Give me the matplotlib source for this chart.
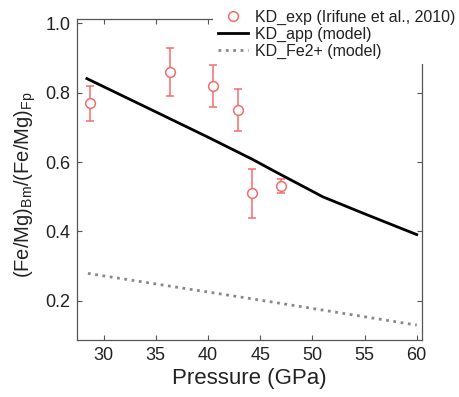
import matplotlib
matplotlib.use("Agg")
import matplotlib.pyplot as plt

plt.rcParams['font.family'] = ['Liberation Sans', 'DejaVu Sans']
plt.rcParams['mathtext.fontset'] = 'custom'
plt.rcParams['mathtext.rm'] = 'Liberation Sans'
plt.rcParams['mathtext.it'] = 'Liberation Sans:italic'

# Experimental data (Irifune et al., 2010)
exp_p = [28.7, 36.4, 40.5, 42.9, 44.2, 47.0]
exp_kd = [0.77, 0.86, 0.82, 0.75, 0.51, 0.53]
exp_err_lo = [0.05, 0.07, 0.06, 0.06, 0.07, 0.02]
exp_err_hi = [0.05, 0.07, 0.06, 0.06, 0.07, 0.02]

# Model KD_app
app_p = [28.4, 35, 40, 44.2, 46.6, 51, 55, 60]
app_kd = [0.841, 0.745, 0.672, 0.609, 0.570, 0.50, 0.451, 0.391]

# Model KD_Fe2+
fe2_p = [28.5, 45, 60]
fe2_kd = [0.279, 0.202, 0.13]

red = '#f26d6d'

fig = plt.figure(figsize=(4.59, 3.97), dpi=100)
ax = fig.add_axes([0.1688, 0.1436, 0.7505, 0.8078])

ax.errorbar(exp_p, exp_kd, yerr=[exp_err_lo, exp_err_hi], fmt='none',
            ecolor=red, elinewidth=1.1, capsize=3.2, capthick=1.1, zorder=2)
ax.plot(exp_p, exp_kd, 'o', mfc='white', mec=red, mew=1.1, ms=7,
        label='KD_exp (Irifune et al., 2010)', zorder=3)
ax.plot(app_p, app_kd, '-', color='black', lw=2.0, label='KD_app (model)', zorder=2)
ax.plot(fe2_p, fe2_kd, ':', color='#888888', lw=2.0, label='KD_Fe2+ (model)', zorder=2)

ax.set_xlim(27.5, 60.5)
ax.set_ylim(0.087, 1.012)
ax.set_xticks([30, 35, 40, 45, 50, 55, 60])
ax.set_yticks([0.2, 0.4, 0.6, 0.8, 1.0])
ax.set_yticklabels(['0.2', '0.4', '0.6', '0.8', '1.0'])
ax.tick_params(direction='in', length=3.5, width=0.8, color='#555555',
               labelsize=13, top=True, right=True, labelcolor='#222222', pad=5)
for s in ax.spines.values():
    s.set_color('#555555')
    s.set_linewidth(0.9)

ax.set_xlabel('Pressure (GPa)', fontsize=16, color='#222222', labelpad=3)
ax.set_ylabel(r'(Fe/Mg)$_{\mathrm{Bm}}$/(Fe/Mg)$_{\mathrm{Fp}}$', fontsize=14.5,
              color='#222222')
ax.yaxis.set_label_coords(-0.115, 0.483)

leg = fig.legend(loc='upper left', bbox_to_anchor=(213 / 459, 1 - 5 / 397),
                 fontsize=11.5, frameon=True, facecolor='white', edgecolor='none',
                 framealpha=1, fancybox=False, borderpad=0.3, labelspacing=0.12,
                 handlelength=1.9, handletextpad=0.45, borderaxespad=0)
for t in leg.get_texts():
    t.set_color('#222222')

fig.savefig('out.png', dpi=100)
